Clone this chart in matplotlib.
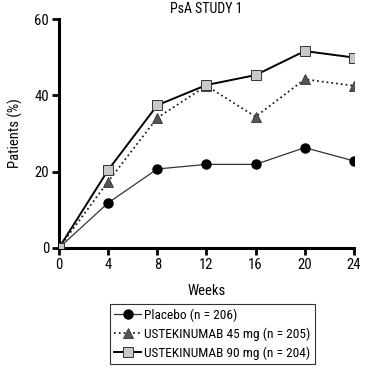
import matplotlib
matplotlib.use("Agg")
import matplotlib.pyplot as plt

plt.rcParams['font.family'] = ['Roboto Condensed', 'DejaVu Sans']

weeks = [0, 4, 8, 12, 16, 20, 24]
placebo = [0, 11.8, 20.7, 21.9, 21.9, 26.3, 22.8]
uste45 = [0, 17.4, 34.1, 42.5, 34.4, 44.2, 42.5]
uste90 = [0, 20.4, 37.4, 42.7, 45.3, 51.6, 49.9]
labels = ["Placebo (n = 206)", "USTEKINUMAB 45 mg (n = 205)", "USTEKINUMAB 90 mg (n = 204)"]

fig = plt.figure(figsize=(3.66, 3.69), dpi=100)
ax = fig.add_axes([0.161, 0.328, 0.806, 0.6205])

ax.plot(weeks, placebo, '-', color='#333333', lw=0.9, marker='o', ms=6.5,
        mfc='black', mec='black', label=labels[0], zorder=3)
ax.plot(weeks, uste45, ':', color='#222222', lw=1.3, marker='^', ms=7,
        mfc='#555555', mec='#333333', mew=0.6, label=labels[1], zorder=4)
ax.plot(weeks, uste90, '-', color='black', lw=1.4, marker='s', ms=6.5,
        mfc='#c8c8c8', mec='#333333', mew=0.7, label=labels[2], zorder=5)

ax.set_xlim(0, 24)
ax.set_ylim(0, 60)
ax.set_xticks(weeks)
ax.set_yticks([0, 20, 40, 60])
for s in ['top', 'right']:
    ax.spines[s].set_visible(False)
for s in ['left', 'bottom']:
    ax.spines[s].set_linewidth(2.2)
ax.tick_params(width=2, length=5, labelsize=10.5, pad=2)

ax.set_title("PsA STUDY 1", fontsize=10, pad=4)
ax.set_xlabel("Weeks", fontsize=10.5, labelpad=9)
ax.set_ylabel("Patients (%)", fontsize=10.5, labelpad=8)

leg = ax.legend(loc='upper center', bbox_to_anchor=(0.519, -0.245), frameon=True,
                fancybox=False, edgecolor='black', fontsize=9.6, handlelength=2.0,
                handletextpad=0.2, borderpad=0.35, labelspacing=0.4,
                borderaxespad=0)
leg.get_frame().set_linewidth(0.8)

fig.savefig("out.png", dpi=100)
